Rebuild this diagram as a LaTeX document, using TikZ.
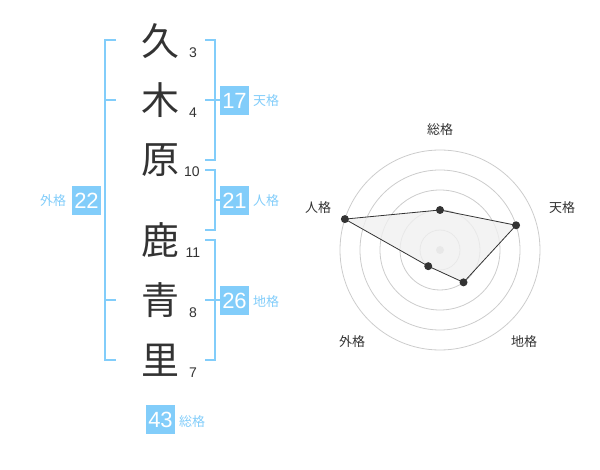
\documentclass[tikz,border=0pt]{standalone}
\usepackage{fontspec}
\usetikzlibrary{calc}
\setmainfont{Liberation Sans}
\newfontfamily\jp{Noto Sans CJK JP}
\definecolor{lblue}{RGB}{130,205,250}
\definecolor{dgray}{RGB}{51,51,51}
\definecolor{ring}{RGB}{204,204,204}
\definecolor{poly}{RGB}{240,240,240}
\tikzset{
  kanji/.style={text=dgray,font=\jp\fontsize{38}{38}\selectfont,inner sep=0},
  stroke/.style={text=dgray,font=\fontsize{14}{14}\selectfont,inner sep=0},
  valbox/.style={fill=lblue,text=white,minimum size=29pt,inner sep=0,font=\fontsize{22}{22}\selectfont},
  vallabel/.style={text=lblue,font=\jp\fontsize{13}{13}\selectfont,inner sep=0},
  bracket/.style={draw=lblue,line width=2pt},
  radarlabel/.style={text=dgray,font=\jp\fontsize{13}{13}\selectfont,inner sep=0},
  dot/.style={circle,fill=dgray,minimum size=8pt,inner sep=0}
}
\begin{document}
\begin{tikzpicture}[x=1pt,y=-1pt]
\useasboundingbox (0,0) rectangle (600,470);
% name characters
\node[kanji] (c1) at (160,41) {久};
\node[kanji] (c2) at (160,100) {木};
\node[kanji] (c3) at (160,160) {原};
\node[kanji] (c4) at (160,240) {鹿};
\node[kanji] (c5) at (160,300) {青};
\node[kanji] (c6) at (160,360) {里};
\node[stroke] (s1) at (193,53) {3};
\node[stroke] (s2) at (193,113) {4};
\node[stroke] (s3) at (192,172) {10};
\node[stroke] (s4) at (193,253) {11};
\node[stroke] (s5) at (193,313) {8};
\node[stroke] (s6) at (193,373) {7};
% brackets
\draw[bracket] (116,40) -- (105,40) -- (105,360) -- (116,360);
\draw[bracket] (105,100) -- (116,100);
\draw[bracket] (105,300) -- (116,300);
\draw[bracket] (205,40) -- (215,40) -- (215,160) -- (205,160);
\draw[bracket] (205,100) -- (220,100);
\draw[bracket] (205,170) -- (215,170) -- (215,230) -- (205,230);
\draw[bracket] (215,200) -- (220,200);
\draw[bracket] (205,240) -- (215,240) -- (215,360) -- (205,360);
\draw[bracket] (205,300) -- (220,300);
% value boxes
\node[valbox] (ten) at (234.5,100.5) {17};
\node[vallabel] (tenl) at (266,101) {天格};
\node[valbox] (jin) at (234.5,200.5) {21};
\node[vallabel] (jinl) at (266,201) {人格};
\node[valbox] (chi) at (234.5,300.5) {26};
\node[vallabel] (chil) at (266,302) {地格};
\node[valbox] (gai) at (86.5,200.5) {22};
\node[vallabel] (gail) at (53,201) {外格};
\node[valbox] (sou) at (160.5,419.5) {43};
\node[vallabel] (soul) at (192,422) {総格};
% radar
\coordinate (c) at (440,250);
\foreach \r in {20,40,60,80,100} \draw[ring,line width=0.8pt] (c) circle (\r);
\fill[ring] (c) circle (4);
\coordinate (p1) at ($(c)+(-90:40)$);
\coordinate (p2) at ($(c)+(-18:80)$);
\coordinate (p3) at ($(c)+(54:40)$);
\coordinate (p4) at ($(c)+(126:20)$);
\coordinate (p5) at ($(c)+(-162:100)$);
\draw[fill=poly,fill opacity=0.8,draw=dgray,line width=0.8pt] (p1) -- (p2) -- (p3) -- (p4) -- (p5) -- cycle;
\foreach \p in {p1,p2,p3,p4,p5} \node[dot] at (\p) {};
\node[radarlabel] (r1) at (440,130) {総格};
\node[radarlabel] (r2) at (562,208) {天格};
\node[radarlabel] (r3) at (524,342) {地格};
\node[radarlabel] (r4) at (352,342) {外格};
\node[radarlabel] (r5) at (318,208) {人格};
\end{tikzpicture}
\end{document}
